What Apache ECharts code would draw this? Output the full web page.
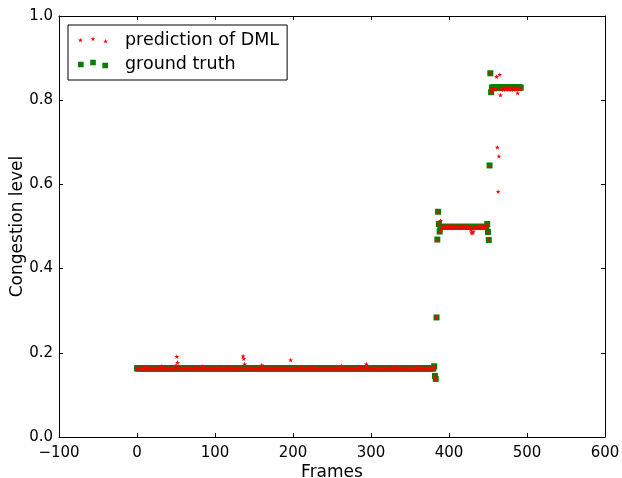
<!DOCTYPE html>
<html>
<head>
<meta charset="utf-8">
<script src="https://cdn.jsdelivr.net/npm/echarts@6/dist/echarts.min.js"></script>
<style>html,body{margin:0;padding:0;background:#fff}#c{width:622px;height:478px}</style>
</head>
<body>
<div id="c"></div>
<script>
// x ticks and y ticks
const xTicks = [-100, 0, 100, 200, 300, 400, 500, 600];
const yTicks = [0.0, 0.2, 0.4, 0.6, 0.8, 1.0];
const seriesNames = ['prediction of DML', 'ground truth'];

// ground truth, one value per frame starting at frame 0
const groundTruth = [
0.163,0.163,0.163,0.163,0.163,0.163,0.163,0.163,0.163,0.163,0.163,0.163,0.163,0.163,0.163,0.163,0.163,0.163,0.163,0.163,
0.163,0.163,0.163,0.163,0.163,0.163,0.163,0.163,0.163,0.163,0.163,0.163,0.163,0.163,0.163,0.163,0.163,0.163,0.163,0.163,
0.163,0.163,0.163,0.163,0.163,0.163,0.163,0.163,0.163,0.163,0.163,0.163,0.163,0.163,0.163,0.163,0.163,0.163,0.163,0.163,
0.163,0.163,0.163,0.163,0.163,0.163,0.163,0.163,0.163,0.163,0.163,0.163,0.163,0.163,0.163,0.163,0.163,0.163,0.163,0.163,
0.163,0.163,0.163,0.163,0.163,0.163,0.163,0.163,0.163,0.163,0.163,0.163,0.163,0.163,0.163,0.163,0.163,0.163,0.163,0.163,
0.163,0.163,0.163,0.163,0.163,0.163,0.163,0.163,0.163,0.163,0.163,0.163,0.163,0.163,0.163,0.163,0.163,0.163,0.163,0.163,
0.163,0.163,0.163,0.163,0.163,0.163,0.163,0.163,0.163,0.163,0.163,0.163,0.163,0.163,0.163,0.163,0.163,0.163,0.163,0.163,
0.163,0.163,0.163,0.163,0.163,0.163,0.163,0.163,0.163,0.163,0.163,0.163,0.163,0.163,0.163,0.163,0.163,0.163,0.163,0.163,
0.163,0.163,0.163,0.163,0.163,0.163,0.163,0.163,0.163,0.163,0.163,0.163,0.163,0.163,0.163,0.163,0.163,0.163,0.163,0.163,
0.163,0.163,0.163,0.163,0.163,0.163,0.163,0.163,0.163,0.163,0.163,0.163,0.163,0.163,0.163,0.163,0.163,0.163,0.163,0.163,
0.163,0.163,0.163,0.163,0.163,0.163,0.163,0.163,0.163,0.163,0.163,0.163,0.163,0.163,0.163,0.163,0.163,0.163,0.163,0.163,
0.163,0.163,0.163,0.163,0.163,0.163,0.163,0.163,0.163,0.163,0.163,0.163,0.163,0.163,0.163,0.163,0.163,0.163,0.163,0.163,
0.163,0.163,0.163,0.163,0.163,0.163,0.163,0.163,0.163,0.163,0.163,0.163,0.163,0.163,0.163,0.163,0.163,0.163,0.163,0.163,
0.163,0.163,0.163,0.163,0.163,0.163,0.163,0.163,0.163,0.163,0.163,0.163,0.163,0.163,0.163,0.163,0.163,0.163,0.163,0.163,
0.163,0.163,0.163,0.163,0.163,0.163,0.163,0.163,0.163,0.163,0.163,0.163,0.163,0.163,0.163,0.163,0.163,0.163,0.163,0.163,
0.163,0.163,0.163,0.163,0.163,0.163,0.163,0.163,0.163,0.163,0.163,0.163,0.163,0.163,0.163,0.163,0.163,0.163,0.163,0.163,
0.163,0.163,0.163,0.163,0.163,0.163,0.163,0.163,0.163,0.163,0.163,0.163,0.163,0.163,0.163,0.163,0.163,0.163,0.163,0.163,
0.163,0.163,0.163,0.163,0.163,0.163,0.163,0.163,0.163,0.163,0.163,0.163,0.163,0.163,0.163,0.163,0.163,0.163,0.163,0.163,
0.163,0.163,0.163,0.163,0.163,0.163,0.163,0.163,0.163,0.163,0.163,0.163,0.163,0.163,0.163,0.163,0.163,0.163,0.163,0.163,
0.163,0.168,0.145,0.138,0.284,0.469,0.535,0.506,0.488,
0.499,0.499,0.499,0.499,0.499,0.499,0.499,0.499,0.499,0.499,0.499,0.499,0.499,0.499,0.499,0.499,0.499,0.499,0.499,0.499,
0.499,0.499,0.499,0.499,0.499,0.499,0.499,0.499,0.499,0.499,0.499,0.499,0.499,0.499,0.499,0.499,0.499,0.499,0.499,0.499,
0.499,0.499,0.499,0.499,0.499,0.499,0.499,0.499,0.499,0.499,0.499,0.499,0.499,0.499,0.499,0.499,0.499,0.499,0.499,0.499,
0.506,0.487,0.468,0.645,0.864,0.819,
0.830,0.830,0.830,0.830,0.830,0.830,0.830,0.830,0.830,0.830,0.830,0.830,0.830,0.830,0.830,0.830,0.830,0.830,0.830,0.830,
0.830,0.830,0.830,0.830,0.830,0.830,0.830,0.830,0.830,0.830,0.830,0.830,0.830,0.830,0.830,0.830,0.830,0.830
];

// DML prediction, one value per frame starting at frame 0
const prediction = [
0.163,0.163,0.163,0.163,0.163,0.163,0.163,0.163,0.163,0.163,0.163,0.163,0.166,0.163,0.163,0.163,0.163,0.163,0.163,0.163,
0.163,0.163,0.163,0.163,0.163,0.163,0.163,0.163,0.163,0.163,0.163,0.168,0.163,0.163,0.163,0.163,0.163,0.163,0.163,0.163,
0.163,0.163,0.163,0.163,0.163,0.163,0.163,0.163,0.163,0.163,0.170,0.191,0.177,0.163,0.163,0.163,0.163,0.163,0.163,0.163,
0.163,0.163,0.163,0.163,0.163,0.163,0.163,0.163,0.163,0.163,0.163,0.163,0.163,0.163,0.163,0.166,0.163,0.163,0.163,0.163,
0.163,0.163,0.163,0.163,0.168,0.163,0.163,0.163,0.163,0.163,0.163,0.163,0.163,0.163,0.163,0.163,0.163,0.163,0.163,0.163,
0.163,0.163,0.163,0.163,0.163,0.163,0.166,0.163,0.163,0.163,0.163,0.163,0.163,0.163,0.163,0.163,0.163,0.163,0.166,0.163,
0.163,0.163,0.163,0.163,0.163,0.163,0.163,0.163,0.163,0.163,0.163,0.163,0.163,0.163,0.163,0.163,0.192,0.186,0.173,0.163,
0.163,0.163,0.163,0.163,0.163,0.163,0.163,0.163,0.163,0.163,0.163,0.163,0.163,0.163,0.163,0.163,0.163,0.163,0.163,0.163,
0.171,0.163,0.163,0.163,0.163,0.163,0.163,0.163,0.163,0.163,0.163,0.163,0.163,0.163,0.163,0.163,0.163,0.163,0.163,0.163,
0.163,0.163,0.163,0.163,0.163,0.163,0.163,0.163,0.163,0.163,0.163,0.163,0.163,0.163,0.163,0.163,0.163,0.183,0.163,0.163,
0.163,0.163,0.163,0.163,0.163,0.163,0.163,0.163,0.163,0.163,0.163,0.166,0.163,0.163,0.163,0.163,0.163,0.163,0.163,0.163,
0.163,0.163,0.163,0.163,0.166,0.163,0.163,0.163,0.163,0.163,0.163,0.163,0.163,0.163,0.163,0.163,0.163,0.163,0.163,0.163,
0.163,0.163,0.163,0.163,0.163,0.163,0.163,0.163,0.163,0.163,0.163,0.163,0.163,0.163,0.163,0.163,0.163,0.163,0.163,0.163,
0.163,0.163,0.169,0.163,0.163,0.163,0.163,0.163,0.163,0.163,0.163,0.163,0.163,0.163,0.163,0.163,0.163,0.163,0.163,0.163,
0.163,0.163,0.163,0.163,0.163,0.163,0.166,0.163,0.163,0.163,0.163,0.163,0.163,0.163,0.173,0.169,0.163,0.163,0.163,0.163,
0.163,0.163,0.163,0.163,0.163,0.163,0.163,0.163,0.163,0.163,0.163,0.163,0.163,0.163,0.163,0.163,0.163,0.163,0.163,0.163,
0.163,0.163,0.163,0.163,0.163,0.163,0.163,0.163,0.163,0.163,0.163,0.166,0.163,0.163,0.163,0.163,0.163,0.163,0.163,0.163,
0.163,0.163,0.163,0.163,0.163,0.163,0.163,0.163,0.163,0.163,0.163,0.163,0.163,0.163,0.163,0.163,0.163,0.163,0.163,0.163,
0.166,0.163,0.163,0.163,0.163,0.163,0.163,0.163,0.163,0.163,0.163,0.163,0.163,0.163,0.163,0.163,0.163,0.163,0.163,0.163,
0.163,0.168,0.145,0.138,0.284,0.469,0.535,0.506,0.488,
0.514,0.492,0.496,
0.499,0.501,0.498,0.500,0.502,0.497,0.499,0.501,0.500,0.498,0.499,0.502,0.500,0.497,0.499,0.501,0.498,0.500,0.499,0.501,
0.498,0.500,0.502,0.499,0.497,0.500,0.501,0.498,0.499,0.500,0.502,0.498,0.497,0.499,0.500,0.498,0.492,0.486,0.484,0.488,
0.495,0.498,0.500,0.499,0.497,0.501,0.500,0.498,0.499,0.502,0.500,0.498,0.499,0.501,0.497,0.500,0.499,
0.506,0.487,0.468,0.645,0.864,0.819,
0.828,0.826,0.829,0.827,0.825,0.827,0.856,0.688,0.583,0.667,0.861,0.812,0.826,0.828,0.827,0.825,0.829,0.827,0.826,0.828,
0.827,0.829,0.826,0.827,0.828,0.825,0.827,0.829,0.826,0.828,0.827,0.826,0.828,0.817,0.827,0.829,0.826,0.828
];

// marker shapes
function starPts(cx, cy, R) {
  const r = R * 0.381966;
  let s = '';
  for (let k = 0; k < 10; k++) {
    const a = (k * 36 - 90) * Math.PI / 180;
    const rr = k % 2 === 0 ? R : r;
    s += (k === 0 ? 'M' : 'L') + (cx + rr * Math.cos(a)).toFixed(3) + ',' + (cy + rr * Math.sin(a)).toFixed(3);
  }
  return s + 'Z';
}
function rectPts(cx, cy, h) {
  return 'M' + (cx - h) + ',' + (cy - h) + 'L' + (cx + h) + ',' + (cy - h) + 'L' + (cx + h) + ',' + (cy + h) + 'L' + (cx - h) + ',' + (cy + h) + 'Z';
}
const starSymbol = 'path://' + starPts(0, 0, 10);
const legendStar = 'path://' + starPts(0, 1.3, 2.5) + starPts(12.3, 0, 2.5) + starPts(24.6, 2.3, 2.5);
const legendRect = 'path://' + rectPts(0, 2, 2.85) + rectPts(12.3, 0, 2.85) + rectPts(24.6, 3, 2.85);

const FONT = 'DejaVu Sans';
const gtData = groundTruth.map((v, i) => [i, v]);
const predData = prediction.map((v, i) => [i, v]);

function xFmt(v) { return v < 0 ? '\u2212' + Math.abs(v) : String(v); }
function yFmt(v) { return v.toFixed(1); }

const tickStyle = { show: true, inside: true, length: 4, lineStyle: { color: '#000', width: 1 } };
const lineStyle = { show: true, onZero: false, lineStyle: { color: '#000', width: 1 } };

const chart = echarts.init(document.getElementById('c'), null, { renderer: 'canvas' });
chart.setOption({
  backgroundColor: '#fff',
  animation: false,
  textStyle: { fontFamily: FONT },
  grid: { left: 59, right: 17, top: 16, bottom: 41, containLabel: false, outerBoundsMode: 'none' },
  legend: {
    orient: 'vertical',
    left: 68,
    top: 25,
    data: [
      { name: seriesNames[0], icon: legendStar, itemStyle: { color: '#ff0000' } },
      { name: seriesNames[1], icon: legendRect, itemStyle: { color: '#008000' } }
    ],
    itemWidth: 30,
    itemHeight: 9,
    itemGap: 6,
    padding: [6, 8, 7, 10],
    borderColor: '#000',
    borderWidth: 1,
    borderRadius: 0,
    backgroundColor: '#fff',
    selectedMode: false,
    textStyle: { fontFamily: FONT, fontSize: 17.5, color: '#000', lineHeight: 18, padding: [0, 0, 0, 12] }
  },
  xAxis: [
    {
      type: 'value', min: xTicks[0], max: xTicks[xTicks.length - 1], interval: 100,
      name: 'Frames', nameLocation: 'middle', nameGap: 27, nameMoveOverlap: false,
      nameTextStyle: { fontFamily: FONT, fontSize: 17, color: '#000' },
      axisLine: lineStyle, axisTick: tickStyle,
      axisLabel: { formatter: xFmt, fontFamily: FONT, fontSize: 15, color: '#000', margin: 9, showMinLabel: true, showMaxLabel: true },
      splitLine: { show: false }
    },
    {
      type: 'value', position: 'top', min: xTicks[0], max: xTicks[xTicks.length - 1], interval: 100,
      axisLine: lineStyle, axisTick: tickStyle, axisLabel: { show: false }, splitLine: { show: false }
    }
  ],
  yAxis: [
    {
      type: 'value', min: yTicks[0], max: yTicks[yTicks.length - 1], interval: 0.2,
      name: 'Congestion level', nameLocation: 'middle', nameGap: 33, nameMoveOverlap: false,
      nameTextStyle: { fontFamily: FONT, fontSize: 17, color: '#000' },
      axisLine: lineStyle, axisTick: tickStyle,
      axisLabel: { formatter: yFmt, fontFamily: FONT, fontSize: 15, color: '#000', margin: 6, showMinLabel: true, showMaxLabel: true },
      splitLine: { show: false }
    },
    {
      type: 'value', position: 'right', min: yTicks[0], max: yTicks[yTicks.length - 1], interval: 0.2,
      axisLine: lineStyle, axisTick: tickStyle, axisLabel: { show: false }, splitLine: { show: false }
    }
  ],
  series: [
    {
      name: seriesNames[1], type: 'scatter', xAxisIndex: 0, yAxisIndex: 0,
      data: gtData, symbol: 'rect', symbolSize: 6,
      itemStyle: { color: '#008000', opacity: 1 }, z: 2, silent: true
    },
    {
      name: seriesNames[0], type: 'scatter', xAxisIndex: 0, yAxisIndex: 0,
      data: predData, symbol: starSymbol, symbolSize: 5, symbolKeepAspect: true,
      itemStyle: { color: '#ff0000', opacity: 1 }, z: 3, silent: true
    }
  ]
});
</script>
</body>
</html>
